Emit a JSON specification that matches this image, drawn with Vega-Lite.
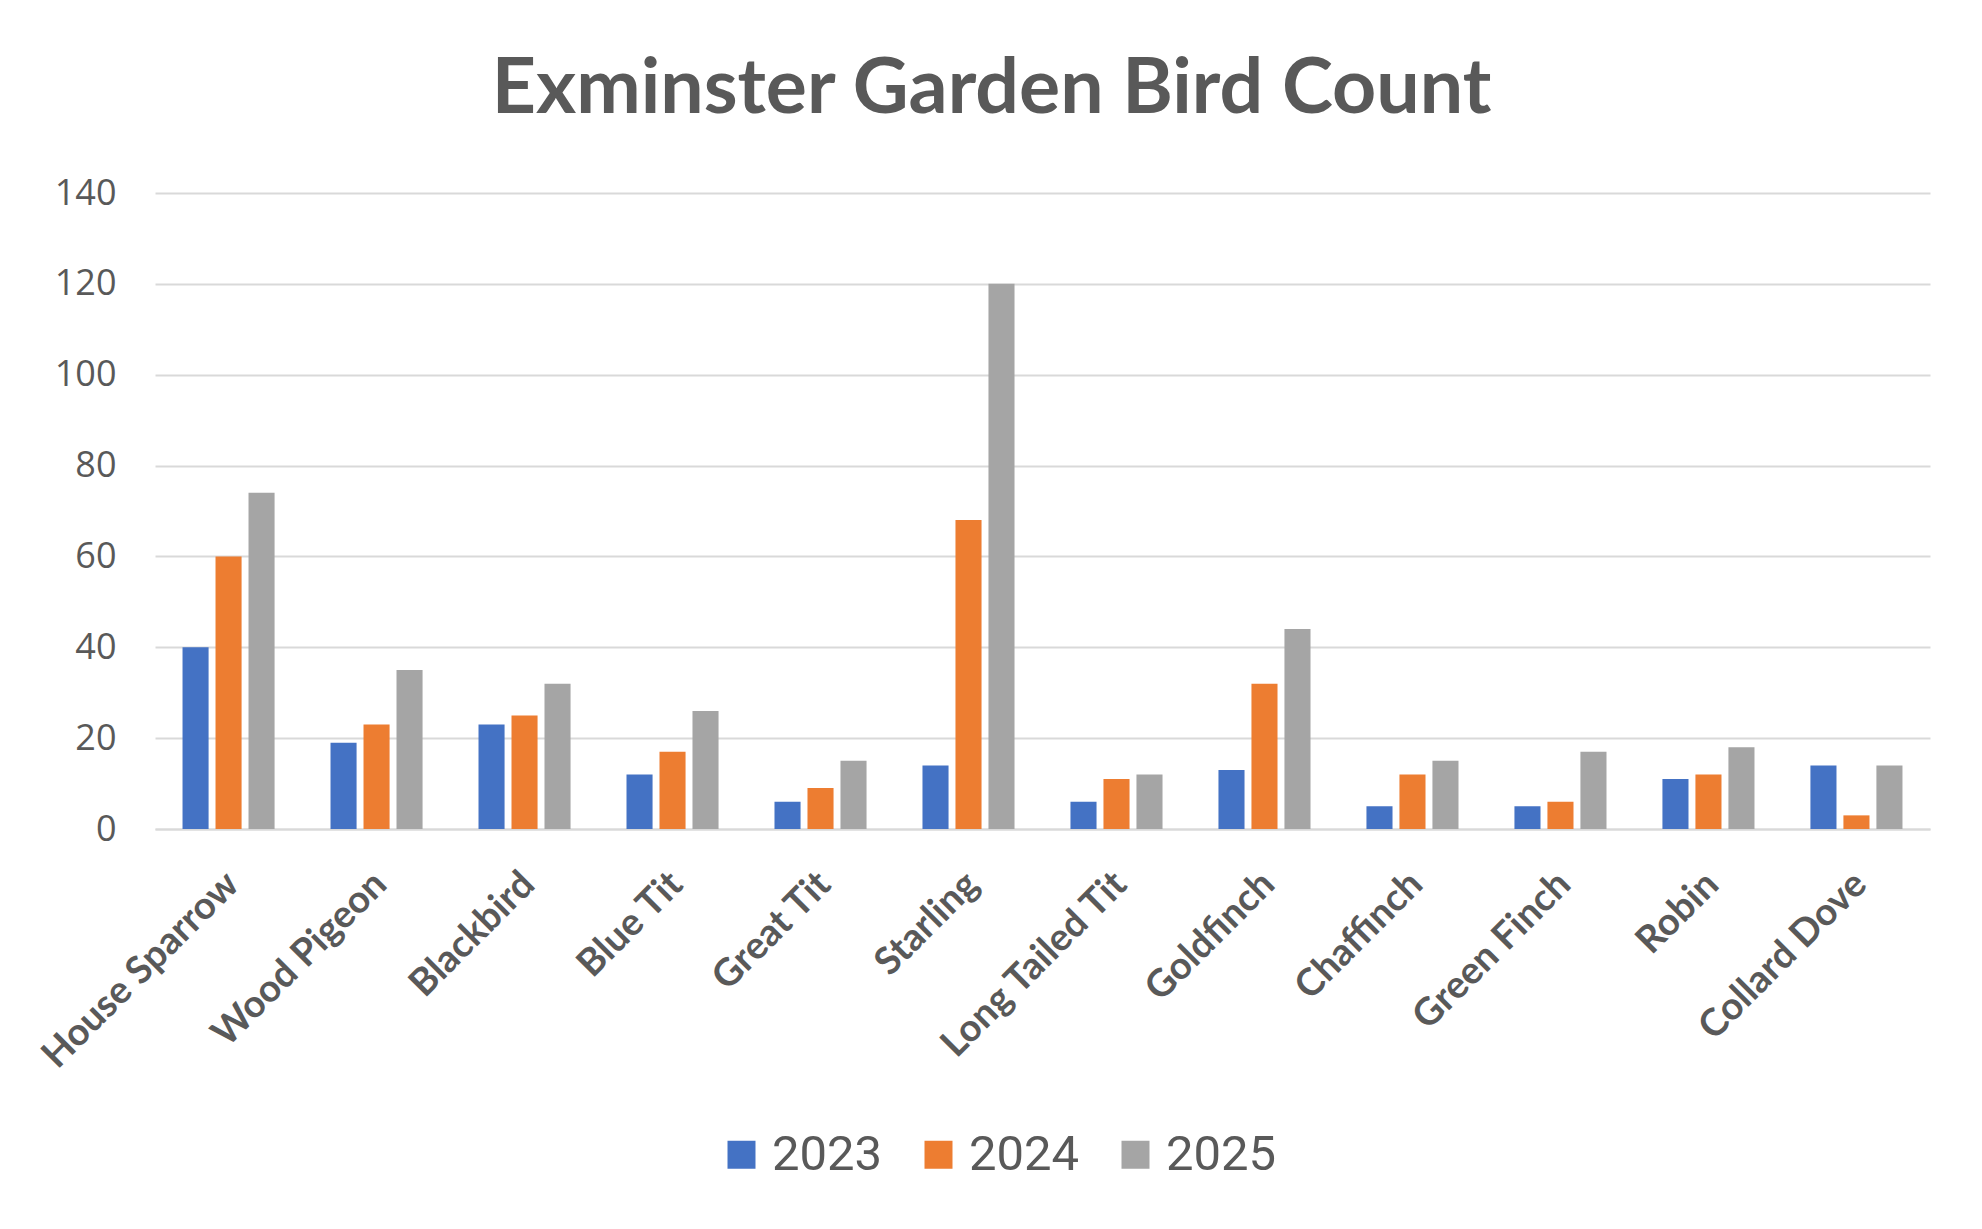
{
  "$schema": "https://vega.github.io/schema/vega-lite/v6.json",
  "autosize": "none",
  "width": 1775,
  "height": 636,
  "padding": {"left": 155, "top": 193, "right": 52, "bottom": 400},
  "background": "white",
  "title": {
    "text": "Exminster Garden Bird Count",
    "font": "Lato",
    "fontWeight": "bold",
    "fontSize": 77,
    "color": "#595959",
    "anchor": "middle",
    "dx": -51,
    "offset": 46
  },
  "data": {
    "values": [
      {"bird": "House Sparrow", "year": "2023", "count": 40},
      {"bird": "House Sparrow", "year": "2024", "count": 60},
      {"bird": "House Sparrow", "year": "2025", "count": 74},
      {"bird": "Wood Pigeon", "year": "2023", "count": 19},
      {"bird": "Wood Pigeon", "year": "2024", "count": 23},
      {"bird": "Wood Pigeon", "year": "2025", "count": 35},
      {"bird": "Blackbird", "year": "2023", "count": 23},
      {"bird": "Blackbird", "year": "2024", "count": 25},
      {"bird": "Blackbird", "year": "2025", "count": 32},
      {"bird": "Blue Tit", "year": "2023", "count": 12},
      {"bird": "Blue Tit", "year": "2024", "count": 17},
      {"bird": "Blue Tit", "year": "2025", "count": 26},
      {"bird": "Great Tit", "year": "2023", "count": 6},
      {"bird": "Great Tit", "year": "2024", "count": 9},
      {"bird": "Great Tit", "year": "2025", "count": 15},
      {"bird": "Starling", "year": "2023", "count": 14},
      {"bird": "Starling", "year": "2024", "count": 68},
      {"bird": "Starling", "year": "2025", "count": 120},
      {"bird": "Long Tailed Tit", "year": "2023", "count": 6},
      {"bird": "Long Tailed Tit", "year": "2024", "count": 11},
      {"bird": "Long Tailed Tit", "year": "2025", "count": 12},
      {"bird": "Goldfinch", "year": "2023", "count": 13},
      {"bird": "Goldfinch", "year": "2024", "count": 32},
      {"bird": "Goldfinch", "year": "2025", "count": 44},
      {"bird": "Chaffinch", "year": "2023", "count": 5},
      {"bird": "Chaffinch", "year": "2024", "count": 12},
      {"bird": "Chaffinch", "year": "2025", "count": 15},
      {"bird": "Green Finch", "year": "2023", "count": 5},
      {"bird": "Green Finch", "year": "2024", "count": 6},
      {"bird": "Green Finch", "year": "2025", "count": 17},
      {"bird": "Robin", "year": "2023", "count": 11},
      {"bird": "Robin", "year": "2024", "count": 12},
      {"bird": "Robin", "year": "2025", "count": 18},
      {"bird": "Collard Dove", "year": "2023", "count": 14},
      {"bird": "Collard Dove", "year": "2024", "count": 3},
      {"bird": "Collard Dove", "year": "2025", "count": 14}
    ]
  },
  "mark": {"type": "bar"},
  "encoding": {
    "x": {
      "field": "bird",
      "type": "nominal",
      "sort": null,
      "scale": {"paddingInner": 0.378, "paddingOuter": 0.186},
      "axis": {
        "title": null,
        "labelAngle": -45,
        "labelFont": "Lato",
        "labelFontWeight": "bold",
        "labelFontSize": 38,
        "labelColor": "#595959",
        "labelPadding": 36,
        "labelOffset": -9,
        "ticks": false,
        "domainColor": "#d9d9d9",
        "domainWidth": 2,
        "labelOverlap": false,
        "labelLimit": 0
      }
    },
    "xOffset": {
      "field": "year",
      "type": "nominal",
      "scale": {"paddingInner": 0.21, "paddingOuter": 0}
    },
    "y": {
      "field": "count",
      "type": "quantitative",
      "scale": {"domain": [0, 140], "nice": false},
      "axis": {
        "title": null,
        "values": [0, 20, 40, 60, 80, 100, 120, 140],
        "domain": false,
        "ticks": false,
        "gridColor": "#d9d9d9",
        "gridWidth": 2,
        "labelFont": "Open Sans",
        "labelFontSize": 36,
        "labelColor": "#595959",
        "labelPadding": 39
      }
    },
    "color": {
      "field": "year",
      "type": "nominal",
      "scale": {"domain": ["2023", "2024", "2025"], "range": ["#4472C4", "#ED7D31", "#A5A5A5"]},
      "legend": {
        "title": null,
        "orient": "none",
        "direction": "horizontal",
        "legendX": 562,
        "legendY": 937,
        "symbolType": "square",
        "symbolSize": 784,
        "symbolStrokeWidth": 0,
        "labelFont": "Roboto",
        "labelFontSize": 49,
        "labelColor": "#595959",
        "labelOffset": 6,
        "columnPadding": 31
      }
    }
  },
  "config": {
    "view": {"stroke": null}
  }
}
